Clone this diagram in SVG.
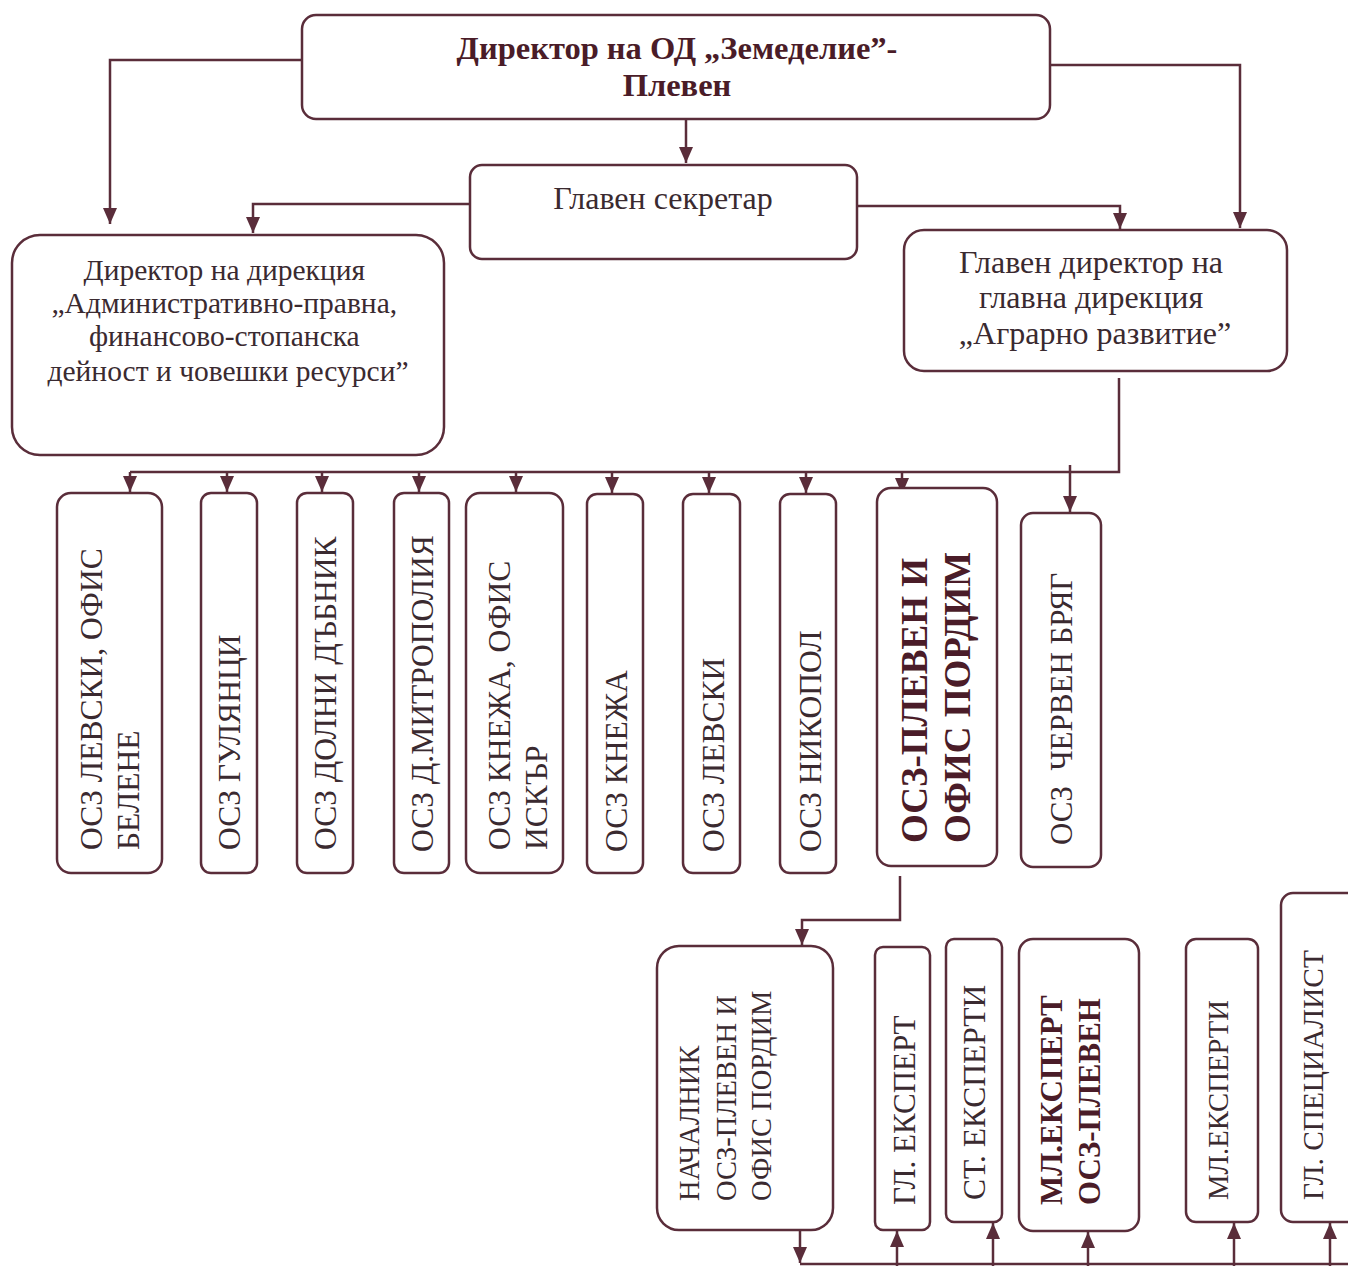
<svg xmlns="http://www.w3.org/2000/svg" width="1348" height="1266" viewBox="0 0 1348 1266">
<defs>
<marker id="ah" markerUnits="userSpaceOnUse" markerWidth="16" markerHeight="14" refX="16" refY="7" orient="auto-start-reverse" viewBox="0 0 16 14">
<path d="M0,0 L16,7 L0,14 Z" fill="#5a2d3a"/>
</marker>
<style>
.box{fill:#fff;stroke:#5a2d3a;stroke-width:2.5}
.ln{fill:none;stroke:#5a2d3a;stroke-width:2.5}
.t{font-family:"Liberation Serif","Times New Roman",serif;fill:#3a2a30}
.b{font-weight:bold;fill:#4a1c28}
.v{font-size:31.5px}
</style>
</defs>
<rect width="1348" height="1266" fill="#fff"/>

<g id="connectors">
<path class="ln" d="M686,119 V163" marker-end="url(#ah)"/>
<path class="ln" d="M302,60 H110 V224" marker-end="url(#ah)"/>
<path class="ln" d="M1050,65 H1240 V228" marker-end="url(#ah)"/>
<path class="ln" d="M470,204 H253 V233" marker-end="url(#ah)"/>
<path class="ln" d="M857,206 H1120 V229" marker-end="url(#ah)"/>
<path class="ln" d="M1119,378 V472 H130"/>
<path class="ln" d="M130,472 V492" marker-end="url(#ah)"/>
<path class="ln" d="M227,472 V492" marker-end="url(#ah)"/>
<path class="ln" d="M322,472 V492" marker-end="url(#ah)"/>
<path class="ln" d="M419,472 V492" marker-end="url(#ah)"/>
<path class="ln" d="M516,472 V492" marker-end="url(#ah)"/>
<path class="ln" d="M612,472 V493" marker-end="url(#ah)"/>
<path class="ln" d="M709,472 V493" marker-end="url(#ah)"/>
<path class="ln" d="M806,472 V493" marker-end="url(#ah)"/>
<path class="ln" d="M902,472 V494" marker-end="url(#ah)"/>
<path class="ln" d="M1070,465 V512" marker-end="url(#ah)"/>
<path class="ln" d="M900,876 V920 H802 V945" marker-end="url(#ah)"/>
<path class="ln" d="M800,1264 H1348"/>
<path class="ln" d="M800,1222 V1263" marker-end="url(#ah)"/>
<path class="ln" d="M897,1266 V1231" marker-end="url(#ah)"/>
<path class="ln" d="M993,1266 V1223" marker-end="url(#ah)"/>
<path class="ln" d="M1088,1266 V1232" marker-end="url(#ah)"/>
<path class="ln" d="M1234,1266 V1223" marker-end="url(#ah)"/>
<path class="ln" d="M1330,1266 V1223" marker-end="url(#ah)"/>
</g>

<g id="director">
<rect class="box" x="302" y="15" width="748" height="104" rx="14"/>
<text class="t b" x="677" y="59" font-size="32.5" text-anchor="middle">Директор на ОД „Земеделие”-</text>
<text class="t b" x="677" y="96" font-size="32.5" text-anchor="middle">Плевен</text>
</g>

<g id="secretary">
<rect class="box" x="470" y="165" width="387" height="94" rx="12"/>
<text class="t" x="663" y="209" font-size="32" text-anchor="middle">Главен секретар</text>
</g>

<g id="dir-admin">
<rect class="box" x="12" y="235" width="432" height="220" rx="28"/>
<text class="t" font-size="29.5" text-anchor="middle">
<tspan x="228" y="280">Директор на дирекция</tspan>
<tspan x="228" y="313">„Административно-правна,</tspan>
<tspan x="228" y="346">финансово-стопанска</tspan>
<tspan x="228" y="381">дейност и човешки ресурси”</tspan>
</text>
</g>

<g id="dir-agro">
<rect class="box" x="904" y="230" width="383" height="141" rx="20"/>
<text class="t" font-size="32" text-anchor="middle">
<tspan x="1095" y="273">Главен директор на</tspan>
<tspan x="1095" y="308">главна дирекция</tspan>
<tspan x="1095" y="344">„Аграрно развитие”</tspan>
</text>
</g>

<g id="osz-levski-belene">
<rect class="box" x="57" y="493" width="105" height="380" rx="14"/>
<text class="t v" transform="translate(102,850) rotate(-90)">ОСЗ ЛЕВСКИ, ОФИС</text>
<text class="t v" transform="translate(139,850) rotate(-90)">БЕЛЕНЕ</text>
</g>
<g id="osz-gulyantsi">
<rect class="box" x="201" y="493" width="56" height="380" rx="10"/>
<text class="t v" transform="translate(240,850) rotate(-90)">ОСЗ ГУЛЯНЦИ</text>
</g>
<g id="osz-dolni-dabnik">
<rect class="box" x="297" y="493" width="56" height="380" rx="10"/>
<text class="t v" transform="translate(336,850) rotate(-90)">ОСЗ ДОЛНИ ДЪБНИК</text>
</g>
<g id="osz-mitropolia">
<rect class="box" x="394" y="493" width="55" height="380" rx="10"/>
<text class="t v" transform="translate(433,852) rotate(-90)">ОСЗ Д.МИТРОПОЛИЯ</text>
</g>
<g id="osz-knezha-iskar">
<rect class="box" x="466" y="493" width="97" height="380" rx="14"/>
<text class="t v" transform="translate(510,850) rotate(-90)">ОСЗ КНЕЖА, ОФИС</text>
<text class="t v" transform="translate(547,850) rotate(-90)">ИСКЪР</text>
</g>
<g id="osz-knezha">
<rect class="box" x="587" y="494" width="56" height="379" rx="10"/>
<text class="t v" transform="translate(627,852) rotate(-90)">ОСЗ КНЕЖА</text>
</g>
<g id="osz-levski">
<rect class="box" x="683" y="494" width="57" height="379" rx="10"/>
<text class="t v" transform="translate(724,852) rotate(-90)">ОСЗ ЛЕВСКИ</text>
</g>
<g id="osz-nikopol">
<rect class="box" x="780" y="494" width="56" height="379" rx="10"/>
<text class="t v" transform="translate(821,852) rotate(-90)">ОСЗ НИКОПОЛ</text>
</g>
<g id="osz-pleven-pordim">
<rect class="box" x="877" y="488" width="120" height="378" rx="14"/>
<text class="t b" font-size="37" transform="translate(927,843) rotate(-90)">ОСЗ-ПЛЕВЕН И</text>
<text class="t b" font-size="37" transform="translate(970,843) rotate(-90)">ОФИС ПОРДИМ</text>
</g>
<g id="osz-cherven-bryag">
<rect class="box" x="1021" y="513" width="80" height="354" rx="12"/>
<text class="t" font-size="31" transform="translate(1072,845) rotate(-90)" xml:space="preserve">ОСЗ  ЧЕРВЕН БРЯГ</text>
</g>

<g id="nachalnik">
<rect class="box" x="657" y="946" width="176" height="284" rx="22"/>
<text class="t" font-size="28.5" transform="translate(699,1201) rotate(-90)">НАЧАЛНИК</text>
<text class="t" font-size="28.5" transform="translate(736,1201) rotate(-90)">ОСЗ-ПЛЕВЕН И</text>
<text class="t" font-size="28.5" transform="translate(771,1201) rotate(-90)">ОФИС ПОРДИМ</text>
</g>
<g id="gl-ekspert">
<rect class="box" x="875" y="947" width="55" height="283" rx="8"/>
<text class="t" font-size="31" transform="translate(915,1205) rotate(-90)">ГЛ. ЕКСПЕРТ</text>
</g>
<g id="st-eksperti">
<rect class="box" x="946" y="939" width="56" height="283" rx="8"/>
<text class="t" font-size="31.5" transform="translate(985,1200) rotate(-90)">СТ. ЕКСПЕРТИ</text>
</g>
<g id="ml-ekspert-pleven">
<rect class="box" x="1019" y="939" width="120" height="292" rx="14"/>
<text class="t b" font-size="31" transform="translate(1062,1205) rotate(-90)">МЛ.ЕКСПЕРТ</text>
<text class="t b" font-size="31" transform="translate(1100,1205) rotate(-90)">ОСЗ-ПЛЕВЕН</text>
</g>
<g id="ml-eksperti">
<rect class="box" x="1186" y="939" width="72" height="283" rx="10"/>
<text class="t" font-size="28.7" transform="translate(1228,1200) rotate(-90)">МЛ.ЕКСПЕРТИ</text>
</g>
<g id="gl-specialist">
<rect class="box" x="1281" y="893" width="80" height="329" rx="12"/>
<text class="t" font-size="29.3" transform="translate(1323,1200) rotate(-90)">ГЛ. СПЕЦИАЛИСТ</text>
</g>
</svg>
